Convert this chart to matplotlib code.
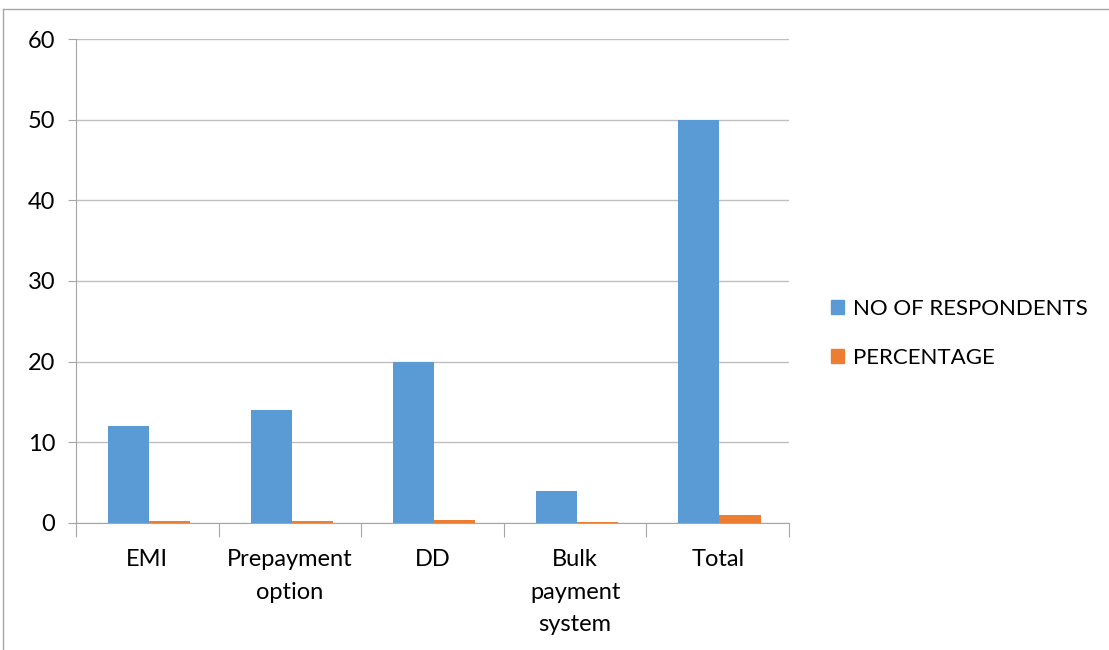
import matplotlib.pyplot as plt
import numpy as np
from matplotlib.lines import Line2D
from matplotlib.patches import Patch

categories = ["EMI", "Prepayment\noption", "DD", "Bulk\npayment\nsystem", "Total"]
respondents = [12, 14, 20, 4, 50]
percentage = [0.24, 0.28, 0.4, 0.08, 1]

blue = "#5B9BD5"
orange = "#ED7D31"
grey = "#A6A6A6"

plt.rcParams['font.family'] = ['Lato', 'DejaVu Sans']

fig = plt.figure(figsize=(11.09, 6.5), dpi=100)
ax = fig.add_axes([0.0685, 0.1954, 0.643, 0.7446])

x = np.arange(len(categories))
w = 0.288
ax.bar(x - w / 2 + 0.012, respondents, w, color=blue, zorder=3)
ax.bar(x + w / 2 + 0.012, percentage, w, color=orange, zorder=3)

ax.set_xlim(-0.5, len(categories) - 0.5)
ax.set_ylim(0, 60)
ax.set_yticks(range(0, 61, 10))
ax.tick_params(axis='y', labelsize=17, length=6, color=grey, pad=9)
ax.yaxis.grid(True, color="#BFBFBF", linewidth=1, zorder=0)

# category ticks sit on the boundaries, labels in the middle
ax.set_xticks(np.arange(-0.5, len(categories)), minor=False)
ax.set_xticklabels([])
ax.tick_params(axis='x', which='major', length=10, color=grey)
ax.set_xticks(x, minor=True)
ax.set_xticklabels(categories, minor=True, fontsize=17, linespacing=1.66)
ax.tick_params(axis='x', which='minor', length=0, pad=19)

for side in ['top', 'right']:
    ax.spines[side].set_visible(False)
for side in ['left', 'bottom']:
    ax.spines[side].set_color(grey)

handles = [Patch(color=blue), Patch(color=orange)]
fig.legend(handles, ["NO OF RESPONDENTS", "PERCENTAGE"], loc='center left',
           bbox_to_anchor=(0.731, 0.487), frameon=False, fontsize=16,
           handlelength=0.6, handleheight=0.6, handletextpad=0.4,
           labelspacing=1.3)

# outer chart frame
fig.add_artist(Line2D([0.003, 0.003], [0, 0.986], color=grey, linewidth=1))
fig.add_artist(Line2D([0.003, 1], [0.986, 0.986], color=grey, linewidth=1))

fig.savefig('out.png', dpi=100)
